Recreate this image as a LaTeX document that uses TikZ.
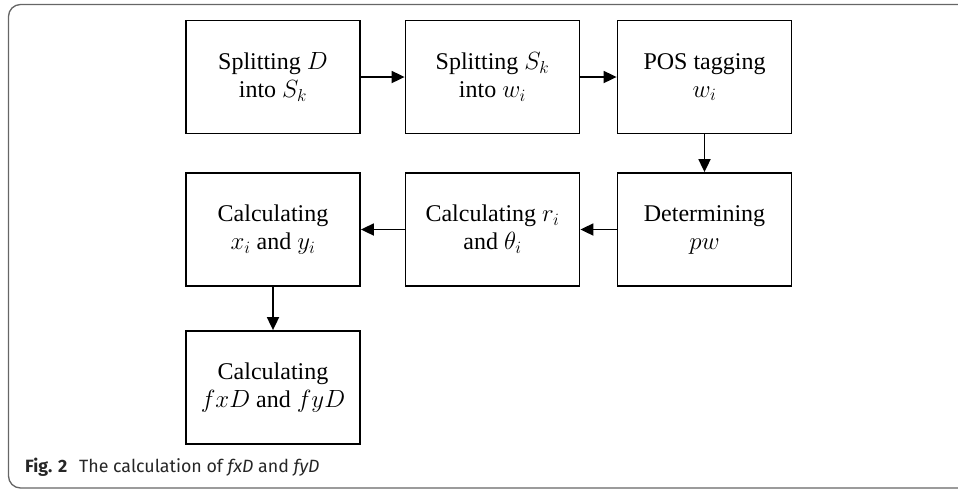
\documentclass[tikz,border=0pt]{standalone}
\usepackage{fontspec}
\setmainfont{Liberation Serif}
\newfontfamily\capfont{Fira Sans}
\usetikzlibrary{arrows.meta}
\tikzset{
  stepbox/.style={draw=black, line width=1.8pt, rectangle, minimum width=174pt, minimum height=113pt, inner sep=0pt, align=center, font=\fontsize{24}{28}\selectfont},
  flow/.style={line width=1.8pt, -{Triangle[length=13pt,width=12pt]}},
  frame/.style={draw=black!60, line width=1.3pt, rounded corners=12pt}
}
\begin{document}
\begin{tikzpicture}[x=1pt,y=-1pt]
\useasboundingbox (0,0) rectangle (958,491);
\clip (0,0) rectangle (958,491);
\draw[frame] (8.5,4.5) rectangle (990,488);
\node[stepbox] (a) at (273,77) {Splitting $D$\\into $S_k$};
\node[stepbox] (b) at (492.5,77) {Splitting $S_k$\\into $w_i$};
\node[stepbox] (c) at (704.5,77) {POS tagging\\$w_i$};
\node[stepbox] (d) at (704.5,229.5) {Determining\\$pw$};
\node[stepbox] (e) at (492.5,229.5) {Calculating $r_i$\\and $\theta_i$};
\node[stepbox] (f) at (273,229.5) {Calculating\\$x_i$ and $y_i$};
\node[stepbox] (g) at (273,387.5) {Calculating\\$fxD$ and $fyD$};
\draw[flow] (a) -- (b);
\draw[flow] (b) -- (c);
\draw[flow] (c) -- (d);
\draw[flow] (d) -- (e);
\draw[flow] (e) -- (f);
\draw[flow] (f) -- (g);
\node[anchor=base west, inner sep=0pt, font=\capfont\fontsize{17.8}{21}\selectfont, text=black!85] (cap) at (25,472.5) {\textbf{Fig. 2}\hspace{0.4em} The calculation of \textit{fxD} and \textit{fyD}};
\end{tikzpicture}
\end{document}
